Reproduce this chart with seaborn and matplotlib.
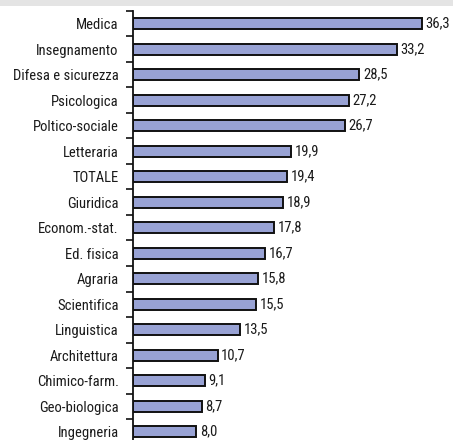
import matplotlib
matplotlib.use("Agg")
import matplotlib.pyplot as plt
import seaborn as sns
import pandas as pd
from matplotlib.patches import Rectangle
from matplotlib.ticker import FixedLocator

categories = ["Medica", "Insegnamento", "Difesa e sicurezza", "Psicologica",
              "Poltico-sociale", "Letteraria", "TOTALE", "Giuridica",
              "Econom.-stat.", "Ed. fisica", "Agraria", "Scientifica",
              "Linguistica", "Architettura", "Chimico-farm.", "Geo-biologica",
              "Ingegneria"]
values = [36.3, 33.2, 28.5, 27.2, 26.7, 19.9, 19.4, 18.9, 17.8, 16.7,
          15.8, 15.5, 13.5, 10.7, 9.1, 8.7, 8.0]

df = pd.DataFrame({"gruppo": categories, "valore": values})

sns.set_theme(style="white")
plt.rcParams["font.family"] = ["Roboto Condensed", "DejaVu Sans"]

fig = plt.figure(figsize=(4.53, 4.40), dpi=100)
# light band across the top
fig.patches.append(Rectangle((0, 1 - 6 / 440), 1, 6 / 440, transform=fig.transFigure,
                             facecolor="#e4e4e4", edgecolor="none", zorder=0))

ax = fig.add_axes([132.5 / 453, 1 - 444.5 / 440, 318.5 / 453, 433.5 / 440])
sns.barplot(data=df, x="valore", y="gruppo", ax=ax, orient="h",
            color="#98a2d4", saturation=1, width=0.43,
            edgecolor="#111111", linewidth=1.4)

for i, v in enumerate(values):
    ax.text(v + 0.45, i, f"{v:.1f}".replace(".", ","), va="center", ha="left",
            fontsize=10.5, color="#1a1a1a")

ax.set_xlim(0, 40)
ax.set_ylim(len(categories) - 0.5, -0.5)
ax.set_xlabel("")
ax.set_ylabel("")
ax.set_xticks([])
ax.tick_params(axis="y", which="major", length=0, pad=10, labelsize=10.5,
               labelcolor="#1a1a1a")
ax.yaxis.set_minor_locator(FixedLocator([i - 0.5 for i in range(len(categories) + 1)]))
ax.tick_params(axis="y", which="minor", length=5, width=1.2, direction="out",
               color="#111111", left=True)
for side in ["top", "right", "bottom"]:
    ax.spines[side].set_visible(False)
ax.spines["left"].set_color("#111111")
ax.spines["left"].set_linewidth(1.3)
ax.patch.set_alpha(0)

fig.savefig("out.png", dpi=100)
